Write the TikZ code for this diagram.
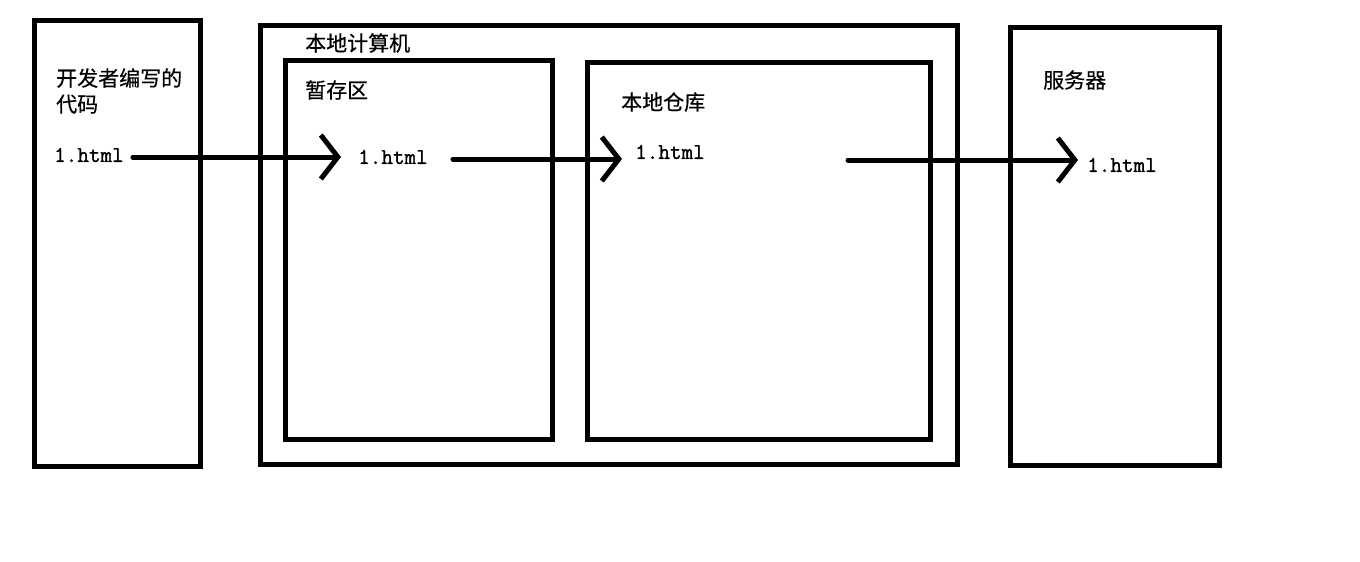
\documentclass[tikz,border=0pt]{standalone}
\usepackage{fontspec}
\usepackage{tikz}
\usetikzlibrary{arrows.meta, positioning}
\newfontfamily\zhfont{Noto Sans CJK SC}[UprightFeatures={FakeBold=0.5}]
\newfontfamily\filefont{Latin Modern Mono}[FakeBold=1.2]

\begin{document}
\begin{tikzpicture}[
    x=1pt, y=-1pt,
    box/.style={draw, line width=5pt, inner sep=0pt},
    label/.style={anchor=west, inner sep=0pt, font=\zhfont\fontsize{21}{26}\selectfont, align=left},
    file/.style={anchor=west, inner sep=0pt, font=\filefont\bfseries\fontsize{22.5}{24}\selectfont},
    flow/.style={-{Straight Barb[length=17pt, width=44pt]}, line width=5pt, line cap=round, line join=round}
]
    \useasboundingbox (0,0) rectangle (1360,562);

    % Boxes
    \node[box, minimum width=166pt, minimum height=446pt] (code) at (117,243) {};
    \node[box, minimum width=697pt, minimum height=439pt] (local) at (608.5,244.5) {};
    \node[box, minimum width=267pt, minimum height=379pt] (stage) at (418.5,249.5) {};
    \node[box, minimum width=343pt, minimum height=377pt] (repo) at (758.5,250.5) {};
    \node[box, minimum width=209pt, minimum height=438pt] (server) at (1114.5,246) {};

    % Box labels
    \node[label] (codelabel) at (56,91) {开发者编写的\\代码};
    \node[label] (locallabel) at (305,43) {本地计算机};
    \node[label] (stagelabel) at (305,90) {暂存区};
    \node[label] (repolabel) at (621,102) {本地仓库};
    \node[label] (serverlabel) at (1043,80) {服务器};

    % Files
    \node[file] (file1) at (54,155) {1.html};
    \node[file] (file2) at (358,157) {1.html};
    \node[file] (file3) at (635,152) {1.html};
    \node[file] (file4) at (1087,165) {1.html};
    \coordinate (push) at (848,160);

    % Arrows
    \draw[flow, shorten <=9pt, shorten >=17pt] (file1.east |- 0,157) -- (file2.west |- 0,157);
    \draw[flow, shorten <=25pt, shorten >=13pt] (file2.east |- 0,159) -- (file3.west |- 0,159);
    \draw[flow, shorten >=9pt] (push) -- (file4.west |- push);
\end{tikzpicture}
\end{document}
